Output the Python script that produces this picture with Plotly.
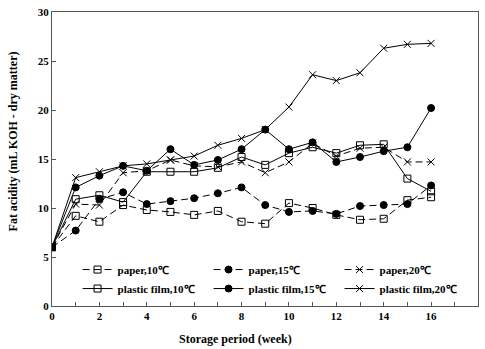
import plotly.graph_objects as go

weeks = list(range(17))
paper_10 = [6.0, 9.2, 8.6, 10.3, 9.8, 9.6, 9.3, 9.7, 8.6, 8.4, 10.5, 10.0, 9.3, 8.8, 8.9, 10.8, 11.1]
paper_15 = [6.0, 7.7, 10.9, 11.6, 10.4, 10.7, 11.0, 11.5, 12.1, 10.3, 9.6, 9.7, 9.4, 10.2, 10.3, 10.4, 12.3]
paper_20 = [6.0, 10.4, 10.3, 13.6, 13.8, 14.9, 14.3, 14.2, 14.7, 13.6, 14.7, 16.6, 15.3, 16.1, 16.2, 14.7, 14.7]
film_10 = [6.0, 10.9, 11.3, 10.6, 13.7, 13.7, 13.7, 14.1, 15.2, 14.4, 15.6, 16.2, 15.6, 16.4, 16.5, 13.0, 11.7]
film_15 = [6.0, 12.1, 13.3, 14.3, 13.8, 16.0, 14.4, 14.9, 16.0, 18.0, 16.0, 16.7, 14.7, 15.2, 15.8, 16.2, 20.2]
film_20 = [6.0, 13.1, 13.7, 14.3, 14.5, 14.9, 15.3, 16.4, 17.1, 18.0, 20.3, 23.6, 23.0, 23.8, 26.3, 26.7, 26.8]

series = [
    ("paper,10℃", paper_10, "square-open", "7px,4px"),
    ("paper,15℃", paper_15, "circle", "7px,4px"),
    ("paper,20℃", paper_20, "x-thin-open", "7px,4px"),
    ("plastic film,10℃", film_10, "square-open", "solid"),
    ("plastic film,15℃", film_15, "circle", "solid"),
    ("plastic film,20℃", film_20, "x-thin-open", "solid"),
]

font = "Liberation Serif, Times New Roman, serif"
fig = go.Figure()
for name, vals, sym, dash in series:
    fig.add_trace(go.Scatter(
        x=weeks, y=vals, name=name, mode="lines+markers",
        line=dict(color="black", width=1, dash=dash),
        marker=dict(symbol=sym, size=7, color="black", line=dict(color="black", width=1)),
    ))

fig.update_layout(
    width=485, height=349,
    margin=dict(l=52, r=6, t=6, b=43),
    paper_bgcolor="white", plot_bgcolor="white",
    font=dict(family=font, size=11, color="black"),
    showlegend=True,
    legend=dict(
        orientation="h", x=0.06, y=0.01, xanchor="left", yanchor="bottom",
        entrywidth=86, entrywidthmode="pixels",
        font=dict(family=font, size=11, color="black", weight="bold"),
        bgcolor="rgba(0,0,0,0)", tracegroupgap=0, itemwidth=30,
    ),
    xaxis=dict(
        range=[0, 17.98], tickvals=list(range(0, 17, 2)),
        ticks="inside", ticklen=4, tickcolor="#555",
        minor=dict(dtick=1, ticks="inside", ticklen=4, tickcolor="#555"),
        showgrid=False, zeroline=False,
        showline=True, linecolor="#555", linewidth=1, mirror=True,
        tickfont=dict(family=font, size=11, weight="bold"),
    ),
    yaxis=dict(
        range=[0, 30], tickvals=list(range(0, 31, 5)),
        ticks="inside", ticklen=4, tickcolor="#555",
        showgrid=False, zeroline=False, ticklabeloverflow="allow",
        showline=True, linecolor="#555", linewidth=1, mirror=True,
        tickfont=dict(family=font, size=11, weight="bold"),
    ),
    annotations=[
        dict(text="<b>Storage period (week)</b>", xref="paper", yref="paper",
             x=(236 - 52) / 427, y=-(340 - 306) / 300, xanchor="center", yanchor="middle",
             showarrow=False, font=dict(family=font, size=12)),
        dict(text="<b>Fat acidity (mL KOH - dry matter)</b>", xref="paper", yref="paper",
             x=-(52 - 13) / 427, y=(306 - 138) / 300, xanchor="center", yanchor="middle",
             textangle=-90, showarrow=False, font=dict(family=font, size=12)),
    ],
)

fig.write_html("out.html")
